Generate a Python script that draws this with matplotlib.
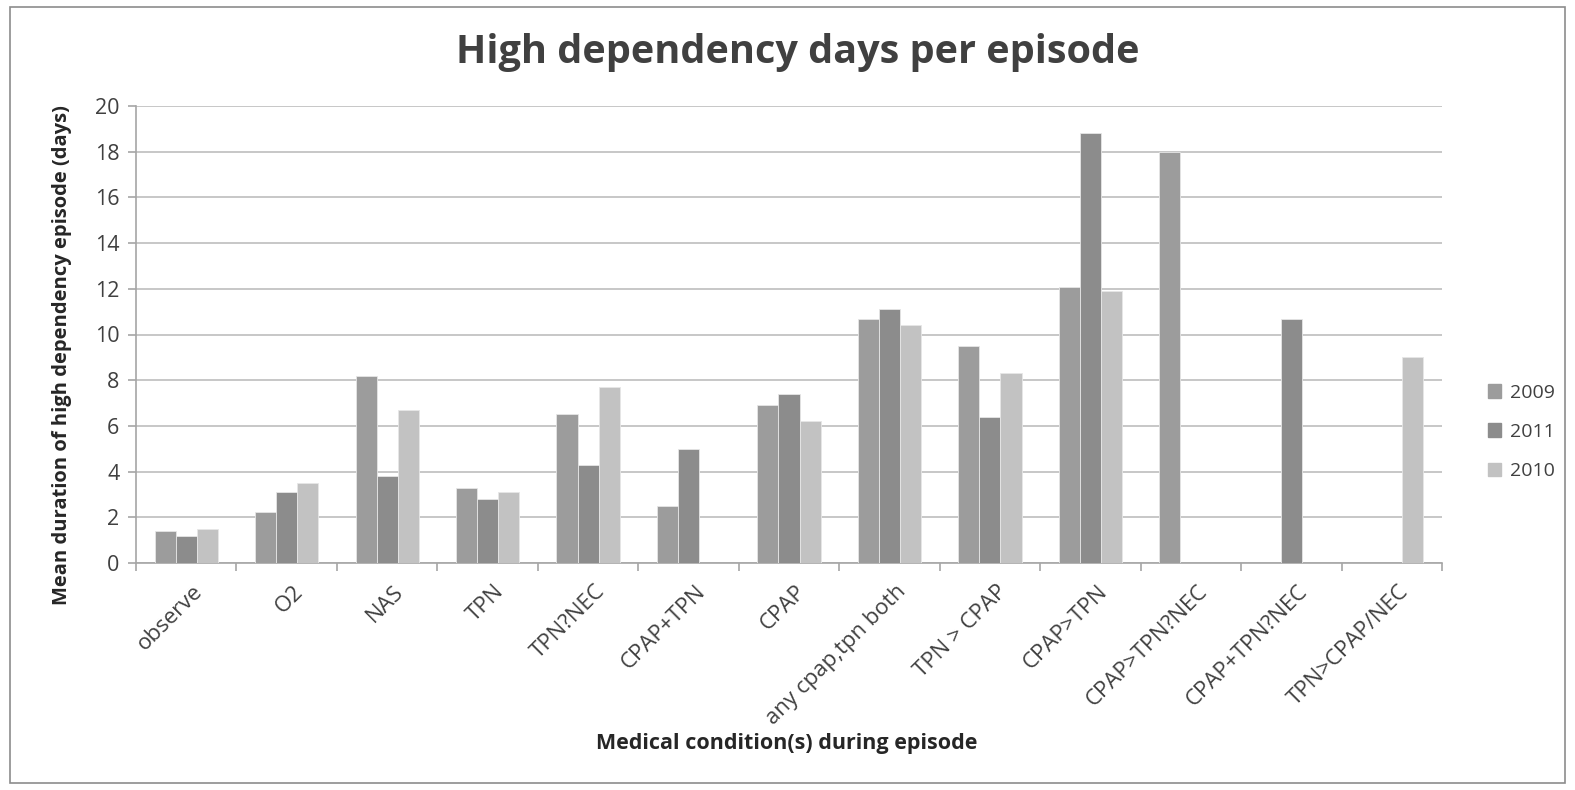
import matplotlib
matplotlib.use("Agg")
import matplotlib.pyplot as plt
from matplotlib.patches import Rectangle
import numpy as np

categories = ["observe", "O2", "NAS", "TPN", "TPN?NEC", "CPAP+TPN", "CPAP",
              "any cpap,tpn both", "TPN > CPAP", "CPAP>TPN", "CPAP>TPN?NEC",
              "CPAP+TPN?NEC", "TPN>CPAP/NEC"]
series_names = ["2009", "2011", "2010"]
v2009 = [1.4, 2.25, 8.2, 3.3, 6.5, 2.5, 6.9, 10.7, 9.5, 12.1, 18.0, 0, 0]
v2011 = [1.2, 3.1, 3.8, 2.8, 4.3, 5.0, 7.4, 11.1, 6.4, 18.8, 0, 10.7, 0]
v2010 = [1.5, 3.5, 6.7, 3.1, 7.7, 0, 6.2, 10.4, 8.3, 11.9, 0, 0, 9.0]
colors = ["#9c9c9c", "#8c8c8c", "#c2c2c2"]

plt.rcParams['font.family'] = ['Open Sans', 'DejaVu Sans']

W, H = 1575, 790
fig = plt.figure(figsize=(W / 100, H / 100), dpi=100)
ax = fig.add_axes([136 / W, 1 - 563 / H, (1442 - 136) / W, (563 - 106) / H])

x = np.arange(len(categories))
bw = 0.21
for i, (vals, c, name) in enumerate(zip([v2009, v2011, v2010], colors, series_names)):
    ax.bar(x + (i - 1) * bw, vals, width=bw, color=c, edgecolor="#e6e6e6",
           linewidth=0.6, label=name, zorder=3)

ax.set_xlim(-0.5, len(categories) - 0.5)
ax.set_ylim(0, 20)
ax.set_yticks(np.arange(0, 21, 2))
ax.yaxis.grid(True, color="#bdbdbd", linewidth=1.2, zorder=0)
ax.set_axisbelow(True)
for s in ["top", "right"]:
    ax.spines[s].set_visible(False)
for s in ["left", "bottom"]:
    ax.spines[s].set_color("#a6a6a6")
    ax.spines[s].set_linewidth(1.2)

ax.set_xticks(np.arange(-0.5, len(categories), 1.0), minor=False)
ax.set_xticklabels([])
ax.tick_params(axis="x", which="major", length=6, color="#a6a6a6", width=1.2)
ax.set_xticks(x + 0.06, minor=True)
ax.set_xticklabels(categories, minor=True, rotation=45, ha="right",
                   rotation_mode="anchor", fontsize=16, color="#404040")
ax.tick_params(axis="x", which="minor", length=0, pad=13)
ax.tick_params(axis="y", length=6, color="#a6a6a6", width=1.2,
               labelsize=15.5, labelcolor="#404040", pad=6)

fig.text(62 / W, 1 - 355 / H, "Mean duration of high dependency episode (days)",
         rotation=90, ha="center", va="center", fontsize=14.5,
         fontweight="bold", color="#262626")
fig.text(787 / W, 1 - 744 / H, "Medical condition(s) during episode",
         ha="center", va="center", fontsize=15.5, fontweight="bold", color="#262626")
fig.text(798 / W, 1 - 52 / H, "High dependency days per episode",
         ha="center", va="center", fontsize=28.5, fontweight="bold", color="#404040")

handles = [Rectangle((0, 0), 1, 1, color=c) for c in colors]
fig.legend(handles, series_names, loc="center left",
           bbox_to_anchor=(1474 / W, 1 - 432 / H), frameon=False,
           fontsize=14, labelcolor="#404040", handlelength=0.7, handleheight=0.7,
           handletextpad=0.45, labelspacing=1.1, borderpad=0.2)

fig.patches.append(Rectangle((10 / W, 1 - 783 / H), (1565 - 10) / W, (783 - 7) / H,
                             transform=fig.transFigure, fill=False,
                             edgecolor="#8c8c8c", linewidth=1.2))

fig.savefig("out.png", dpi=100, facecolor="white")
